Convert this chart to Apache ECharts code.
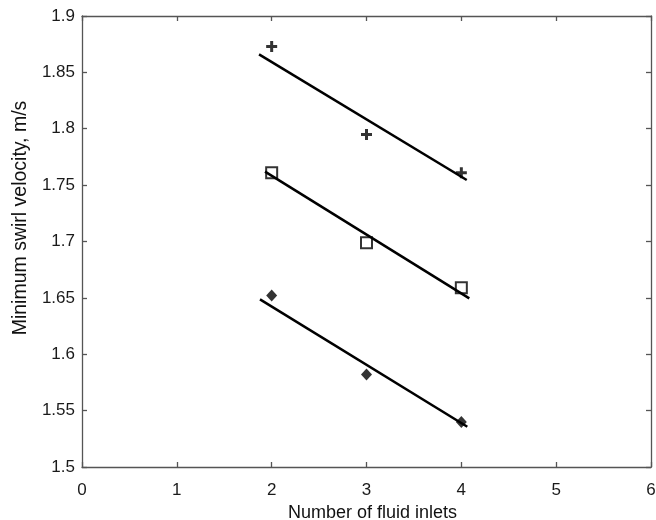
<!DOCTYPE html>
<html>
<head>
<meta charset="utf-8">
<script src="https://cdn.jsdelivr.net/npm/echarts@6/dist/echarts.min.js"></script>
<style>html,body{margin:0;padding:0;background:#fff}#c{width:656px;height:520px}</style>
</head>
<body>
<div id="c"></div>
<script>
// Data
const inlets = [2, 3, 4];
const velPlus = [1.873, 1.795, 1.761];
const velSquare = [1.761, 1.699, 1.659];
const velDiamond = [1.652, 1.582, 1.540];
// Fit line endpoints
const fitPlusX = [1.867, 4.057], fitPlusY = [1.866, 1.7545];
const fitSquareX = [1.93, 4.084], fitSquareY = [1.762, 1.6496];
const fitDiamondX = [1.877, 4.063], fitDiamondY = [1.6487, 1.5357];
const xTicks = [0, 1, 2, 3, 4, 5, 6];
const yTicks = [1.5, 1.55, 1.6, 1.65, 1.7, 1.75, 1.8, 1.85, 1.9];

const zip = (a, b) => a.map((v, i) => [v, b[i]]);
const FONT = '"Liberation Sans", Arial, sans-serif';
const axisCol = '#555';

const chart = echarts.init(document.getElementById('c'), null, {renderer: 'canvas'});
const baseX = {
  type: 'value', min: xTicks[0], max: xTicks[xTicks.length - 1], interval: 1,
  axisLine: {show: true, onZero: false, lineStyle: {color: axisCol, width: 1.3}},
  axisTick: {show: true, inside: true, length: 5, lineStyle: {color: axisCol, width: 1.3}},
  splitLine: {show: false}
};
const baseY = {
  type: 'value', min: yTicks[0], max: yTicks[yTicks.length - 1], interval: 0.05,
  axisLine: {show: true, onZero: false, lineStyle: {color: axisCol, width: 1.3}},
  axisTick: {show: true, inside: true, length: 5, lineStyle: {color: axisCol, width: 1.3}},
  splitLine: {show: false}
};
chart.setOption({
  animation: false,
  backgroundColor: '#fff',
  grid: {left: 82, right: 5, top: 16, bottom: 53, containLabel: false, outerBoundsMode: 'none'},
  xAxis: [
    Object.assign({}, baseX, {
      position: 'bottom',
      name: 'Number of fluid inlets', nameLocation: 'middle', nameGap: 35,
      nameTextStyle: {fontFamily: FONT, fontSize: 18, color: '#111', padding: [0, 0, 0, 12]},
      axisLabel: {show: true, fontFamily: FONT, fontSize: 17, color: '#1a1a1a', margin: 15}
    }),
    Object.assign({}, baseX, {position: 'top', axisLabel: {show: false}})
  ],
  yAxis: [
    Object.assign({}, baseY, {
      position: 'left',
      name: 'Minimum swirl velocity, m/s', nameLocation: 'middle', nameGap: 50,
      nameTextStyle: {fontFamily: FONT, fontSize: 19.5, color: '#111', padding: [0, 0, 0, 47]},
      axisLabel: {show: true, fontFamily: FONT, fontSize: 17, color: '#1a1a1a', margin: 7,
        formatter: v => String(+v.toFixed(2))}
    }),
    Object.assign({}, baseY, {position: 'right', axisLabel: {show: false}})
  ],
  series: [
    {type: 'line', data: zip(fitPlusX, fitPlusY), symbol: 'none', lineStyle: {color: '#000', width: 2.5}},
    {type: 'line', data: zip(fitSquareX, fitSquareY), symbol: 'none', lineStyle: {color: '#000', width: 2.5}},
    {type: 'line', data: zip(fitDiamondX, fitDiamondY), symbol: 'none', lineStyle: {color: '#000', width: 2.5}},
    {type: 'scatter', data: zip(inlets, velPlus), symbol: 'path://M4,0H7V4H11V7H7V11H4V7H0V4H4Z', symbolSize: 11,
      itemStyle: {color: '#000'}},
    {type: 'scatter', data: zip(inlets, velSquare), symbol: 'rect', symbolSize: 11,
      itemStyle: {color: '#fff', borderColor: '#000', borderWidth: 2}},
    {type: 'scatter', data: zip(inlets, velDiamond), symbol: 'diamond', symbolSize: [11, 12],
      itemStyle: {color: '#000'}}
  ]
});
</script>
</body>
</html>
